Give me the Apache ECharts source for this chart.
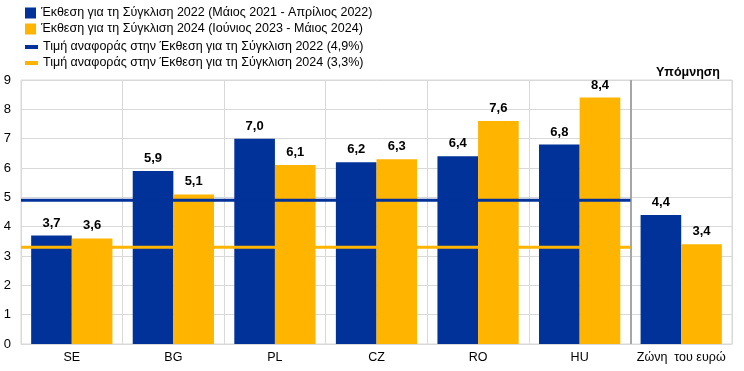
<!DOCTYPE html>
<html>
<head>
<meta charset="utf-8">
<script src="https://cdn.jsdelivr.net/npm/echarts@6/dist/echarts.min.js"></script>
<style>html,body{margin:0;padding:0;background:#fff}#c{width:744px;height:371px}</style>
</head>
<body>
<div id="c"></div>
<script>
const categories = ['SE', 'BG', 'PL', 'CZ', 'RO', 'HU', 'Ζώνη  του ευρώ'];
const report2022 = [3.7, 5.9, 7.0, 6.2, 6.4, 6.8, 4.4];
const report2024 = [3.6, 5.1, 6.1, 6.3, 7.6, 8.4, 3.4];
const ref2022 = 4.9;
const ref2024 = 3.3;
const yTicks = [0, 1, 2, 3, 4, 5, 6, 7, 8, 9];
const refSpan = [0, 6]; // from first category to boundary before memo item
const names = [
  'Έκθεση για τη Σύγκλιση 2022 (Μάιος 2021 - Απρίλιος 2022)',
  'Έκθεση για τη Σύγκλιση 2024 (Ιούνιος 2023 - Μάιος 2024)',
  'Τιμή αναφοράς στην Έκθεση για τη Σύγκλιση 2022 (4,9%)',
  'Τιμή αναφοράς στην Έκθεση για τη Σύγκλιση 2024 (3,3%)'
];
const memoTitle = 'Υπόμνηση';

const BLUE = '#003299', YELLOW = '#FFB400';
const FONT = 'Liberation Sans, Arial, sans-serif';
const fmt = v => v.toFixed(1).replace('.', ',');

const chart = echarts.init(document.getElementById('c'), null, {renderer: 'canvas'});
const labelCfg = {
  show: true, position: 'top', distance: 6,
  formatter: p => fmt(p.value),
  fontFamily: FONT, fontSize: 13, fontWeight: 'bold', color: '#000'
};
chart.setOption({
  animation: false,
  textStyle: {fontFamily: FONT},
  title: {
    text: memoTitle, left: 651, top: 61,
    textStyle: {fontFamily: FONT, fontSize: 12.5, fontWeight: 'bold', color: '#000'}
  },
  legend: [
    {
      data: [names[0], names[1]], orient: 'vertical', left: 20, top: 0,
      itemWidth: 11, itemHeight: 11, itemGap: 0, itemTextGap: 9, icon: 'rect',
      textStyle: {fontFamily: FONT, fontSize: 12.5, color: '#000', lineHeight: 16}
    },
    {
      data: [names[2], names[3]], orient: 'vertical', left: 20, top: 34,
      itemWidth: 13, itemHeight: 4, itemGap: 0, itemTextGap: 10, icon: 'rect',
      textStyle: {fontFamily: FONT, fontSize: 12.5, color: '#000', lineHeight: 16}
    }
  ],
  grid: {left: 21, right: 12, top: 80, bottom: 27, containLabel: false, show: true, borderColor: '#d9d9d9', borderWidth: 1},
  xAxis: [
    {
      type: 'category', data: categories,
      axisTick: {show: false},
      axisLine: {lineStyle: {color: '#d9d9d9'}},
      splitLine: {show: true, lineStyle: {color: '#d9d9d9', width: 1}},
      axisLabel: {color: '#000', fontSize: 12.5, fontFamily: FONT, margin: 7, interval: 0}
    },
    {
      type: 'value', min: 0, max: categories.length, show: false
    }
  ],
  yAxis: {
    type: 'value', min: yTicks[0], max: yTicks[yTicks.length - 1], interval: 1,
    axisLine: {show: false}, axisTick: {show: false},
    splitLine: {lineStyle: {color: '#d9d9d9'}},
    axisLabel: {color: '#000', fontSize: 13, fontFamily: FONT, margin: 10}
  },
  series: [
    {
      name: names[0], type: 'bar', data: report2022, barGap: '0%', barCategoryGap: '20%',
      itemStyle: {color: BLUE}, label: labelCfg
    },
    {
      name: names[1], type: 'bar', data: report2024,
      itemStyle: {color: YELLOW}, label: labelCfg
    },
    {
      name: names[2], type: 'line', xAxisIndex: 1, z: 5,
      data: refSpan.map(x => [x, ref2022]), symbol: 'none',
      lineStyle: {color: BLUE, width: 3}, itemStyle: {color: BLUE},
      markLine: {
        silent: true, symbol: 'none', label: {show: false},
        lineStyle: {color: '#a6a6a6', width: 2, type: 'solid'},
        data: [{xAxis: refSpan[1]}]
      }
    },
    {
      name: names[3], type: 'line', xAxisIndex: 1, z: 5,
      data: refSpan.map(x => [x, ref2024]), symbol: 'none',
      lineStyle: {color: YELLOW, width: 3}, itemStyle: {color: YELLOW}
    }
  ]
});
</script>
</body>
</html>
